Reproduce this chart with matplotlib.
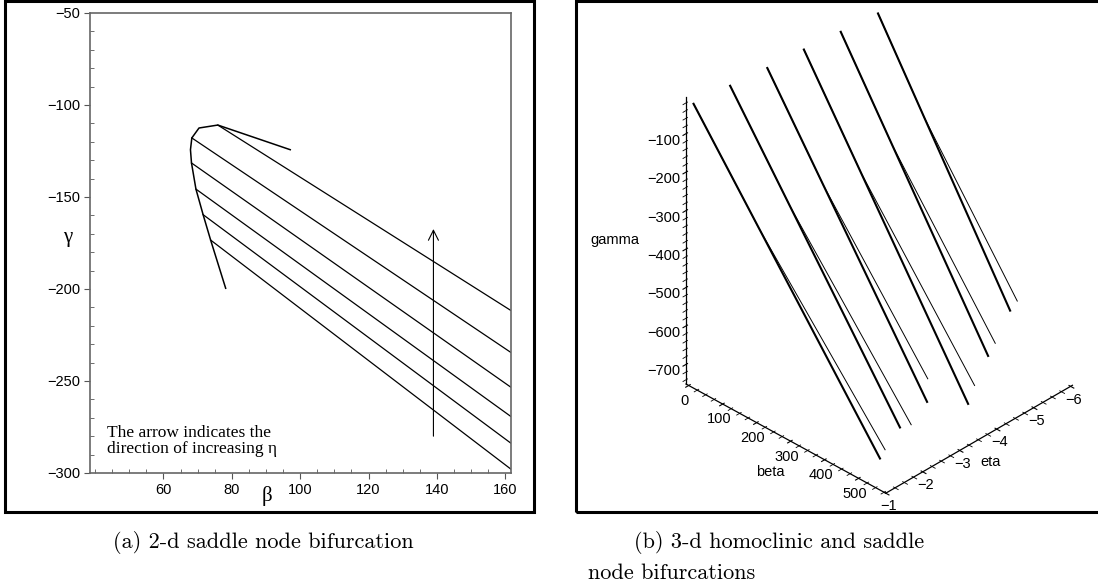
import matplotlib

matplotlib.use("Agg")

import matplotlib.pyplot as plt
import numpy as np
from matplotlib.patches import Rectangle
from matplotlib.ticker import MultipleLocator, NullFormatter
from mpl_toolkits.mplot3d import proj3d

W, H = 1098, 588

plt.rcParams["font.family"] = ["Liberation Sans", "DejaVu Sans"]
plt.rcParams["font.size"] = 10

# (a) saddle node curve in the beta-gamma plane
fold_beta = [78.2, 73.8, 71.6, 69.5, 68.2, 67.9, 68.3, 70.4, 75.9, 97.1]
fold_gamma = [-199.6, -173.4, -159.6, -145.7, -131.5, -124.3, -117.9, -112.5, -110.9, -124.3]

# (a) branches leaving the fold curve and running to the right edge
branch_beta_start = [75.9, 68.3, 68.2, 69.5, 71.6, 73.8]
branch_gamma_start = [-110.9, -117.9, -131.5, -145.7, -159.6, -173.4]
branch_beta_end = [161.6, 161.6, 161.6, 161.6, 161.6, 161.6]
branch_gamma_end = [-211.6, -234.4, -253.3, -269.2, -283.7, -297.8]

arrow_beta = 139.0
arrow_gamma = [-280.0, -167.4]

beta_ticks_a = [60, 80, 100, 120, 140, 160]
gamma_ticks_a = [-300, -250, -200, -150, -100, -50]

# (b) one pair of curves for each eta level
eta_levels = [-1, -2, -3, -4, -5, -6]
start_beta = [14.2, 13.1, 13.7, 12.5, 12.2, 13.1]
start_gamma = [-11.6, -20.8, -29.9, -38.0, -47.6, -55.0]
split_beta = [206, 188, 178, 182, 164, 149]
split_gamma = [-241.7, -247.5, -254.3, -278.7, -269.3, -259.6]
thick_end_beta = [563, 513, 484, 496, 446, 402]
thick_end_gamma = [-669, -668, -671, -726, -681, -640]
thin_end_beta = [578, 546, 486, 515, 467, 423]
thin_end_gamma = [-639, -645, -610, -669, -638, -605]

beta_ticks_b = [0, 100, 200, 300, 400, 500]
eta_ticks_b = [-1, -2, -3, -4, -5, -6]
gamma_ticks_b = [-700, -600, -500, -400, -300, -200, -100]

fig = plt.figure(figsize=(W / 100, H / 100), dpi=100)

# ---------------- panel (a) ----------------
ax = fig.add_axes([90 / W, 1 - 473 / H, 421 / W, 460 / H])
ax.plot(fold_beta, fold_gamma, color="black", lw=1.1)
for bs, gs, be, ge in zip(branch_beta_start, branch_gamma_start, branch_beta_end, branch_gamma_end):
    ax.plot([bs, be], [gs, ge], color="black", lw=0.9)
ax.annotate(
    "",
    xy=(arrow_beta, arrow_gamma[1]),
    xytext=(arrow_beta, arrow_gamma[0]),
    arrowprops=dict(arrowstyle="->", color="black", lw=0.8, mutation_scale=18, shrinkA=0, shrinkB=0),
)
ax.text(
    43.6,
    -282.6,
    "The arrow indicates the\ndirection of increasing η",
    family="Liberation Serif",
    fontsize=12.5,
    va="center",
    ha="left",
    linespacing=0.95,
)
ax.set_xlim(38.5, 161.7)
ax.set_ylim(-300, -50)
ax.set_xticks(beta_ticks_a)
ax.set_yticks(gamma_ticks_a)
ax.xaxis.set_minor_locator(MultipleLocator(5))
ax.yaxis.set_minor_locator(MultipleLocator(10))
ax.tick_params(which="major", direction="out", length=4, width=0.8, color="#555555", labelsize=10.5, pad=3)
ax.tick_params(which="minor", direction="in", length=3, width=0.6, color="#555555")
for side in ax.spines.values():
    side.set_color("#666666")
    side.set_linewidth(1.2)
ax.set_xlabel("β", family="Liberation Serif", fontsize=15)
ax.xaxis.set_label_coords(0.42, -0.028)
ax.set_ylabel("γ", family="Liberation Serif", fontsize=15, rotation=0, va="center", ha="center")
ax.yaxis.set_label_coords(-0.052, 0.513)

# ---------------- panel (b) ----------------
ax3 = fig.add_axes([0.55, 0.1, 0.44, 0.82], projection="3d", proj_type="ortho")
for k, eta in enumerate(eta_levels):
    ax3.plot(
        [eta, eta],
        [start_beta[k], thick_end_beta[k]],
        [start_gamma[k], thick_end_gamma[k]],
        color="black",
        lw=1.5,
    )
    ax3.plot(
        [eta, eta, eta],
        [start_beta[k], split_beta[k], thin_end_beta[k]],
        [start_gamma[k], split_gamma[k], thin_end_gamma[k]],
        color="black",
        lw=0.7,
    )
ax3.set_xlim(-6.05, -1)
ax3.set_ylim(-8, 580)
ax3.set_zlim(-751, -5)
ax3.set_box_aspect((271, 282, 351))
ax3.view_init(elev=34.2, azim=44.2)
ax3.set_xticks(eta_ticks_b)
ax3.set_yticks(beta_ticks_b)
ax3.set_zticks(gamma_ticks_b)
ax3.xaxis.set_minor_locator(MultipleLocator(0.25))
ax3.yaxis.set_minor_locator(MultipleLocator(25))
ax3.zaxis.set_minor_locator(MultipleLocator(20))
for axis in (ax3.xaxis, ax3.yaxis, ax3.zaxis):
    axis.set_minor_formatter(NullFormatter())
    axis.set_pane_color((1, 1, 1, 0))
    axis.pane.set_edgecolor((1, 1, 1, 0))
    axis.line.set_color("black")
    axis.line.set_linewidth(0.9)
ax3.grid(False)
ax3.patch.set_visible(False)
ax3.tick_params(labelsize=10.5)
ax3.tick_params(axis="x", pad=-5)
ax3.tick_params(axis="y", pad=-4)
ax3.tick_params(axis="z", pad=3)
ax3.set_xlabel("eta", fontsize=10.5, labelpad=-10)
ax3.set_ylabel("beta", fontsize=10.5, labelpad=-5)
ax3.zaxis.set_rotate_label(False)
ax3.set_zlabel("gamma", fontsize=10.5, rotation=0, labelpad=14)

# place the 3-d box so that its bottom corners land where the reference has them
fig.canvas.draw()


def to_pixels(eta, beta, gamma):
    xs, ys, _ = proj3d.proj_transform(eta, beta, gamma, ax3.get_proj())
    return np.asarray(ax3.transData.transform((xs, ys)))


p1 = to_pixels(-1, -8, -751)
p3 = to_pixels(-1, 580, -751)
t1 = np.array([686.0, H - 384.0])
t3 = np.array([888.0, H - 489.0])
scale = np.linalg.norm(t3 - t1) / np.linalg.norm(p3 - p1)
pos = ax3.get_position()
side = pos.width * W
centre = np.array([(pos.x0 + pos.width / 2) * W, (pos.y0 + pos.height / 2) * H])
q1 = (p1 - centre) / side
new_side = side * scale
new_centre = t1 - new_side * q1
ax3.set_position(
    [(new_centre[0] - new_side / 2) / W, (new_centre[1] - new_side / 2) / H, new_side / W, new_side / H]
)

# frames around both panels
for x0, x1 in [(5, 534), (576, 1100)]:
    fig.add_artist(
        Rectangle(
            (x0 / W, 1 - 512 / H),
            (x1 - x0) / W,
            511 / H,
            transform=fig.transFigure,
            fill=False,
            lw=2.2,
            ec="black",
            zorder=10,
        )
    )

cap = dict(family="cmr10", fontsize=16, va="center")
fig.text(263 / W, 1 - 542 / H, "(a) 2-d saddle node bifurcation", ha="center", **cap)
fig.text(634 / W, 1 - 542 / H, "(b) 3-d homoclinic and saddle", ha="left", **cap)
fig.text(588 / W, 1 - 573 / H, "node bifurcations", ha="left", **cap)

fig.savefig("out.png", dpi=100)
